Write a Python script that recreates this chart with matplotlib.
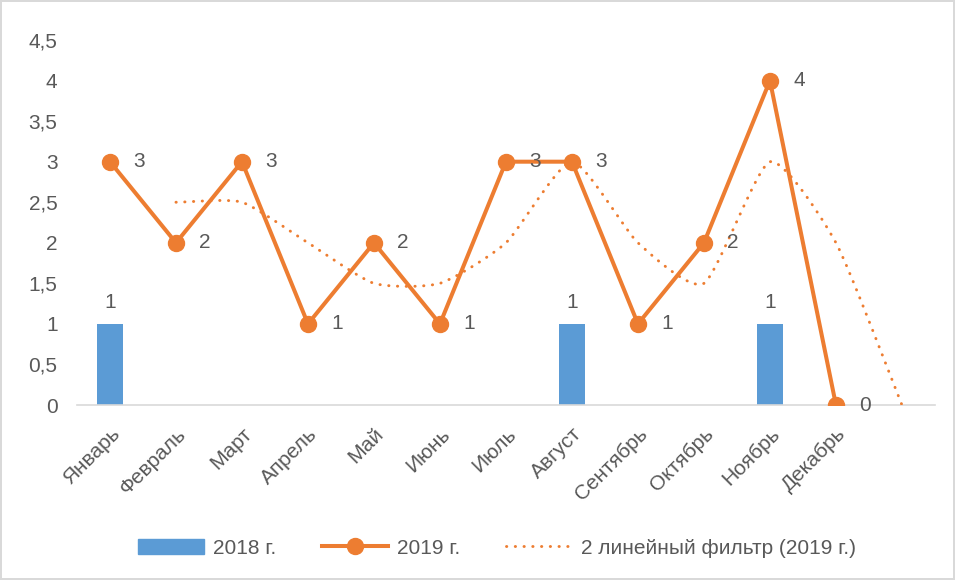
import numpy as np
import matplotlib.pyplot as plt
from matplotlib.lines import Line2D
from matplotlib.patches import Patch

plt.rcParams['font.family'] = ['Liberation Sans', 'DejaVu Sans']

months = ['Январь', 'Февраль', 'Март', 'Апрель', 'Май', 'Июнь', 'Июль',
          'Август', 'Сентябрь', 'Октябрь', 'Ноябрь', 'Декабрь', '']
y2018 = [1, 0, 0, 0, 0, 0, 0, 1, 0, 0, 1, 0]
y2019 = [3, 2, 3, 1, 2, 1, 3, 3, 1, 2, 4, 0]
# 2-period moving average, Excel shows it starting at Feb and running one slot past Dec
ma2019 = [2.5, 2.5, 2, 1.5, 1.5, 2, 3, 2, 1.5, 3, 2, 0]

blue = '#5B9BD5'
orange = '#ED7D31'
gray = '#595959'
fs = 15


def smooth(xs, ys, n=20, k=0.6):
    # hermite curve through the points with damped tangents (excel-like smoothing)
    p = np.column_stack([xs, ys]).astype(float)
    m = np.zeros_like(p)
    m[1:-1] = (p[2:] - p[:-2]) / 2 * k
    m[0] = (p[1] - p[0]) * k
    m[-1] = (p[-1] - p[-2]) * k
    out = []
    t = np.linspace(0, 1, n, endpoint=False)[:, None]
    h00 = 2 * t ** 3 - 3 * t ** 2 + 1
    h10 = t ** 3 - 2 * t ** 2 + t
    h01 = -2 * t ** 3 + 3 * t ** 2
    h11 = t ** 3 - t ** 2
    for i in range(len(p) - 1):
        out.append(h00 * p[i] + h10 * m[i] + h01 * p[i + 1] + h11 * m[i + 1])
    out.append(p[-1][None, :])
    c = np.vstack(out)
    return c[:, 0], c[:, 1]


fig = plt.figure(figsize=(9.55, 5.8), dpi=100)
fig.patch.set_edgecolor('#D9D9D9')
fig.patch.set_linewidth(1.5)
ax = fig.add_axes([0.0806, 0.3017, 0.8984, 0.6293])

x = np.arange(len(y2019))
ax.bar(x, y2018, width=0.4, color=blue, zorder=2)
for xi, v in zip(x, y2018):
    if v:
        ax.text(xi, v + 0.27, str(v), ha='center', va='center', fontsize=fs, color=gray)

ax.plot(x, y2019, color=orange, lw=2.9, marker='o', ms=11.5, zorder=4)
for xi, v in zip(x, y2019):
    ax.text(xi + 0.44, v, str(v), ha='center', va='center', fontsize=fs, color=gray, zorder=5)

xm = np.arange(1, len(ma2019) + 1)
sx, sy = smooth(xm, ma2019)
ax.plot(sx, sy, color=orange, lw=2.1, ls=(0, (0.1, 2.9)), dash_capstyle='round', zorder=3)

ax.set_xlim(-0.5, len(months) - 0.5)
ax.set_ylim(0, 4.5)
ax.set_yticks(np.arange(0, 4.51, 0.5))
ax.set_yticklabels([('%g' % v).replace('.', ',') for v in np.arange(0, 4.51, 0.5)])
ax.set_xticks(np.arange(len(months)))
ax.set_xticklabels(months, rotation=45, ha='right', rotation_mode='anchor')
ax.tick_params(length=0, labelsize=fs, colors=gray)
ax.tick_params(axis='y', pad=14)
ax.tick_params(axis='x', pad=14)
for s in ['top', 'right', 'left']:
    ax.spines[s].set_visible(False)
ax.spines['bottom'].set_color('#D9D9D9')
ax.spines['bottom'].set_linewidth(1.2)

handles = [Patch(color=blue, label='2018 г.'),
           Line2D([], [], color=orange, lw=2.9, marker='o', ms=11.5, label='2019 г.'),
           Line2D([], [], color=orange, lw=2.1, ls=(0, (0.1, 2.9)), dash_capstyle='round',
                  label='2 линейный фильтр (2019 г.)')]
fig.legend(handles=handles, loc='center', bbox_to_anchor=(0.52, 0.055), ncol=3, frameon=False,
           fontsize=fs, labelcolor=gray, handlelength=3.2, handleheight=0.7, columnspacing=2.2,
           handletextpad=0.4)

fig.savefig('out.png', dpi=100)
